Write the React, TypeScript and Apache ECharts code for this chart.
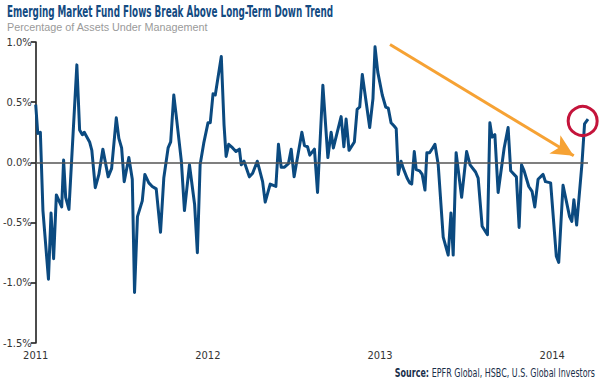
import React, { useEffect, useRef } from "react";
import * as echarts from "echarts";

// Weekly fund flows, x = fractional year, value = % of assets under management
const dates: number[] = [
  2011.000, 2011.012, 2011.027, 2011.042, 2011.074, 2011.089, 2011.104, 2011.120, 2011.151, 2011.162,
  2011.174, 2011.193, 2011.239, 2011.255, 2011.271, 2011.282, 2011.313, 2011.326, 2011.346, 2011.367,
  2011.390, 2011.421, 2011.441, 2011.468, 2011.483, 2011.499, 2011.514, 2011.541, 2011.561, 2011.574,
  2011.591, 2011.619, 2011.634, 2011.657, 2011.677, 2011.700, 2011.725, 2011.744, 2011.769, 2011.784,
  2011.802, 2011.816, 2011.846, 2011.864, 2011.893, 2011.923, 2011.939, 2011.955, 2011.976, 2012.001,
  2012.014, 2012.030, 2012.043, 2012.078, 2012.094, 2012.106, 2012.121, 2012.144, 2012.163, 2012.183,
  2012.194, 2012.210, 2012.241, 2012.260, 2012.287, 2012.318, 2012.333, 2012.362, 2012.395, 2012.410,
  2012.426, 2012.445, 2012.468, 2012.484, 2012.501, 2012.546, 2012.561, 2012.579, 2012.592, 2012.619,
  2012.637, 2012.668, 2012.697, 2012.716, 2012.729, 2012.774, 2012.790, 2012.803, 2012.820, 2012.851,
  2012.867, 2012.882, 2012.897, 2012.940, 2012.959, 2012.971, 2012.987, 2013.013, 2013.033, 2013.048,
  2013.064, 2013.083, 2013.094, 2013.106, 2013.122, 2013.135, 2013.157, 2013.172, 2013.184, 2013.199,
  2013.210, 2013.230, 2013.245, 2013.261, 2013.272, 2013.288, 2013.306, 2013.319, 2013.338, 2013.367,
  2013.396, 2013.412, 2013.425, 2013.442, 2013.474, 2013.503, 2013.523, 2013.555, 2013.570, 2013.593,
  2013.624, 2013.638, 2013.651, 2013.667, 2013.686, 2013.721, 2013.744, 2013.759, 2013.792, 2013.808,
  2013.822, 2013.837, 2013.864, 2013.883, 2013.899, 2013.918, 2013.947, 2013.961, 2013.991, 2014.024,
  2014.038, 2014.063, 2014.101, 2014.114, 2014.126, 2014.142, 2014.173, 2014.188, 2014.208,
];
const flows: number[] = [
  0.48, 0.24, 0.25, -0.40, -0.97, -0.42, -0.80, -0.27, -0.37, 0.02,
  -0.29, -0.39, 0.81, 0.27, 0.23, 0.25, 0.17, 0.10, -0.21, -0.10,
  0.11, -0.12, -0.05, 0.37, 0.20, 0.12, -0.16, 0.04, -0.14, -1.08,
  -0.45, -0.32, -0.10, -0.17, -0.20, -0.22, -0.58, -0.13, 0.12, 0.17,
  0.56, 0.39, 0.01, -0.40, -0.02, -0.35, -0.75, -0.02, 0.16, 0.33,
  0.33, 0.57, 0.56, 0.88, 0.31, 0.05, 0.15, 0.12, 0.09, 0.11,
  -0.02, 0.01, -0.12, -0.09, 0.01, -0.16, -0.33, -0.18, -0.20, 0.15,
  -0.04, -0.04, -0.01, 0.11, -0.12, 0.25, 0.14, 0.13, 0.06, 0.11,
  -0.25, 0.64, 0.04, 0.25, 0.12, 0.38, 0.13, 0.36, 0.10, 0.17,
  0.44, 0.46, 0.73, 0.29, 0.53, 0.96, 0.75, 0.56, 0.46, 0.45,
  0.33, 0.30, 0.28, -0.10, 0.01, -0.05, -0.13, -0.17, -0.18, 0.09,
  -0.06, -0.07, -0.10, -0.23, 0.08, 0.08, 0.12, 0.15, -0.02, -0.62,
  -0.77, -0.42, -0.77, 0.08, -0.29, 0.09, -0.02, -0.08, -0.13, -0.53,
  -0.60, 0.33, 0.21, 0.23, -0.25, 0.12, 0.29, -0.07, -0.12, -0.54,
  -0.02, -0.07, -0.20, -0.24, -0.37, -0.14, -0.10, -0.16, -0.17, -0.78,
  -0.83, -0.19, -0.45, -0.49, -0.31, -0.52, -0.01, 0.32, 0.36,
];

const yTicks: number[] = [-1.5, -1.0, -0.5, 0.0, 0.5, 1.0];
const yearTicks: number[] = [2011, 2012, 2013, 2014];

// Annotations (data coordinates)
const trendArrowStart: number[] = [2013.058, 0.98];
const trendArrowEnd: number[] = [2014.125, 0.055];
const breakoutCircle: number[] = [2014.177, 0.344];

const TITLE = "Emerging Market Fund Flows Break Above Long-Term Down Trend";
const SUBTITLE = "Percentage of Assets Under Management";
const SOURCE_LABEL = "Source:";
const SOURCE_TEXT = " EPFR Global, HSBC, U.S. Global Investors";

const NARROW = "'Liberation Sans Narrow', 'DejaVu Sans Condensed', 'Roboto Condensed', sans-serif";

export default function App() {
  const ref = useRef<HTMLDivElement>(null);
  useEffect(() => {
    if (!ref.current) return;
    const chart = echarts.init(ref.current, null, { renderer: "svg" });
    const points = dates.map((d, i) => [d, flows[i]]);
    chart.setOption({
      animation: false,
      backgroundColor: "#ffffff",
      grid: { left: 35, right: 12, top: 42, bottom: 37, containLabel: false },
      graphic: [
        {
          type: "text",
          x: 7,
          y: 12,
          scaleX: 0.655,
          style: {
            text: TITLE,
            fontFamily: NARROW,
            fontWeight: "bold",
            fontSize: 15,
            fill: "#134b82",
            textAlign: "left",
            textVerticalAlign: "middle",
          },
        },
        {
          type: "text",
          x: 7,
          y: 27,
          style: {
            text: SUBTITLE,
            fontFamily: "'Liberation Sans', Arial, sans-serif",
            fontSize: 10.8,
            fill: "#9a9a9a",
            textAlign: "left",
            textVerticalAlign: "middle",
          },
        },
        {
          type: "text",
          x: 595,
          y: 372,
          scaleX: 0.74,
          style: {
            text: "{b|" + SOURCE_LABEL + "}{n|" + SOURCE_TEXT + "}",
            textAlign: "right",
            textVerticalAlign: "middle",
            rich: {
              b: { fontFamily: NARROW, fontWeight: "bold", fontSize: 12, fill: "#1a2f4a" },
              n: { fontFamily: NARROW, fontSize: 12, fill: "#1a2f4a" },
            },
          },
        },
      ],
      xAxis: {
        type: "value",
        min: yearTicks[0],
        max: dates[dates.length - 1],
        interval: 1,
        axisLine: { show: false },
        axisTick: { show: false },
        splitLine: { show: false },
        axisLabel: {
          margin: 7,
          color: "#333",
          fontFamily: NARROW,
          fontSize: 11,
          formatter: (v: number) => (yearTicks.includes(Math.round(v * 1000) / 1000) ? String(v) : ""),
        },
      },
      yAxis: {
        type: "value",
        min: yTicks[0],
        max: yTicks[yTicks.length - 1],
        interval: 0.5,
        axisLine: { show: true, lineStyle: { color: "#111", width: 1.5 } },
        axisTick: { show: true, length: 5, inside: false, lineStyle: { color: "#111", width: 1.5 } },
        splitLine: { show: false },
        axisLabel: {
          margin: 4,
          color: "#333",
          fontFamily: NARROW,
          fontSize: 11,
          formatter: (v: number) => v.toFixed(1) + "%",
        },
      },
      series: [
        {
          type: "line",
          data: points,
          showSymbol: false,
          symbol: "none",
          z: 3,
          lineStyle: { color: "#0b4a80", width: 3, join: "round" },
          markLine: {
            silent: true,
            animation: false,
            label: { show: false },
            data: [
              {
                yAxis: 0,
                symbol: "none",
                lineStyle: { color: "#555", width: 1.5, type: "solid" },
              },
              [
                {
                  coord: trendArrowStart,
                  symbol: "none",
                  lineStyle: { color: "#f6a234", width: 3, type: "solid" },
                },
                { coord: trendArrowEnd, symbol: "arrow", symbolSize: [16, 22] },
              ],
            ],
            symbol: ["none", "none"],
          },
          markPoint: {
            silent: true,
            animation: false,
            label: { show: false },
            data: [
              {
                coord: breakoutCircle,
                symbol: "circle",
                symbolSize: 29,
                itemStyle: { color: "rgba(0,0,0,0)", borderColor: "#c4143b", borderWidth: 3 },
              },
            ],
          },
        },
      ],
    });
    return () => chart.dispose();
  }, []);
  return (
    <div
      ref={ref}
      style={{ width: 600, height: 380, position: "absolute", left: 0, top: 0, background: "#fff" }}
    />
  );
}
